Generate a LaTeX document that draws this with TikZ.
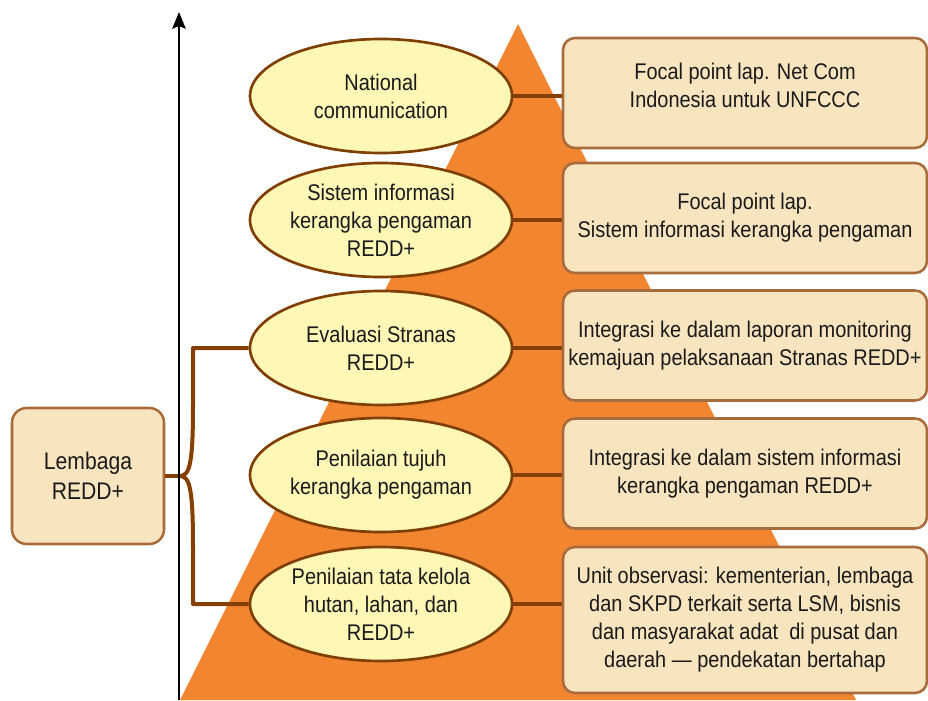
\documentclass[tikz,border=0pt]{standalone}
\usepackage{fontspec}
\setmainfont{Liberation Sans}[FakeStretch=0.88]
\usepackage{xcolor}
\usetikzlibrary{shapes.geometric,arrows.meta,positioning}

\definecolor{pyramid}{HTML}{F2852F}
\definecolor{ellfill}{HTML}{FEF7B6}
\definecolor{ellline}{HTML}{7F3F00}
\definecolor{boxfill}{HTML}{F8E5C0}
\definecolor{boxline}{HTML}{A86B3C}
\definecolor{linkbrown}{HTML}{853F00}
\definecolor{ink}{HTML}{1A1A1A}

\begin{document}
\begin{tikzpicture}[x=0.75pt, y=-0.75pt]
	\tikzstyle{txt} = [text=ink, font=\fontsize{17pt}{21pt}\selectfont, align=center, inner sep=0pt]
	\tikzstyle{ell} = [txt, ellipse, draw=ellline, fill=ellfill, line width=2pt, minimum width=196.5pt, minimum height=85.5pt]
	\tikzstyle{box} = [txt, rectangle, rounded corners=9pt, draw=boxline, fill=boxfill, line width=1.9pt, minimum width=273pt, minimum height=82.5pt]
	\tikzstyle{link} = [draw=linkbrown, line width=3pt]
	\tikzstyle{axis} = [draw=black, line width=1.9pt, -{Stealth[length=12.5pt, width=10pt, inset=2pt]}]
	\useasboundingbox (0,0) rectangle (928,700);

	% pyramid in the background
	\fill[pyramid] (518,24) -- (856,700) -- (180,700) -- cycle;

	\node[ell] (nc)  at (381,96)  {National\\communication};
	\node[ell] (sis) at (381,220) {Sistem informasi\\kerangka pengaman\\REDD+};
	\node[ell] (eva) at (381,348) {Evaluasi Stranas\\REDD+};
	\node[ell] (pkp) at (381,475) {Penilaian tujuh\\kerangka pengaman};
	\node[ell] (ptk) at (381,604) {Penilaian tata kelola\\hutan, lahan, dan\\REDD+};

	\node[box] (fnc)  at (745,93)    {Focal point lap. Net Com\\Indonesia untuk UNFCCC\\[-9pt]\mbox{}};
	\node[box] (fsis) at (745,218)   {Focal point lap.\\Sistem informasi kerangka pengaman};
	\node[box] (ieva) at (745,345.5) {Integrasi ke dalam laporan monitoring\\kemajuan pelaksanaan Stranas REDD+};
	\node[box] (ipkp) at (745,473.5) {Integrasi ke dalam sistem informasi\\kerangka pengaman REDD+};
	\node[box, minimum height=109.5pt] (uptk) at (745,620) {Unit observasi: kementerian, lembaga\\dan SKPD terkait serta LSM, bisnis\\dan masyarakat adat\ \ di pusat dan\\daerah --- pendekatan bertahap};

	\node[box, minimum width=114pt, minimum height=102pt, rounded corners=11pt,
		font=\fontsize{18pt}{22.5pt}\selectfont] (lembaga) at (88,476) {Lembaga\\REDD+};

	\coordinate (tip) at (180,476);

	\draw[link] (nc.east)  -- (nc.east -| fnc.west);
	\draw[link] (sis.east) -- (sis.east -| fsis.west);
	\draw[link] (eva.east) -- (eva.east -| ieva.west);
	\draw[link] (pkp.east) -- (pkp.east -| ipkp.west);
	\draw[link] (ptk.east) -- (ptk.east -| uptk.west);

	% brace from the institution to the three assessments
	\draw[link] (lembaga.east) -- (tip);
	\draw[link, line join=round] (eva.west) -- (193,348) -- (193,405)
		.. controls (193,462) and (190,476) .. (tip)
		.. controls (190,476) and (193,490) .. (193,547)
		-- (193,604) -- (ptk.west);

	\draw[axis] (179,700) -- (179,12);
\end{tikzpicture}
\end{document}
